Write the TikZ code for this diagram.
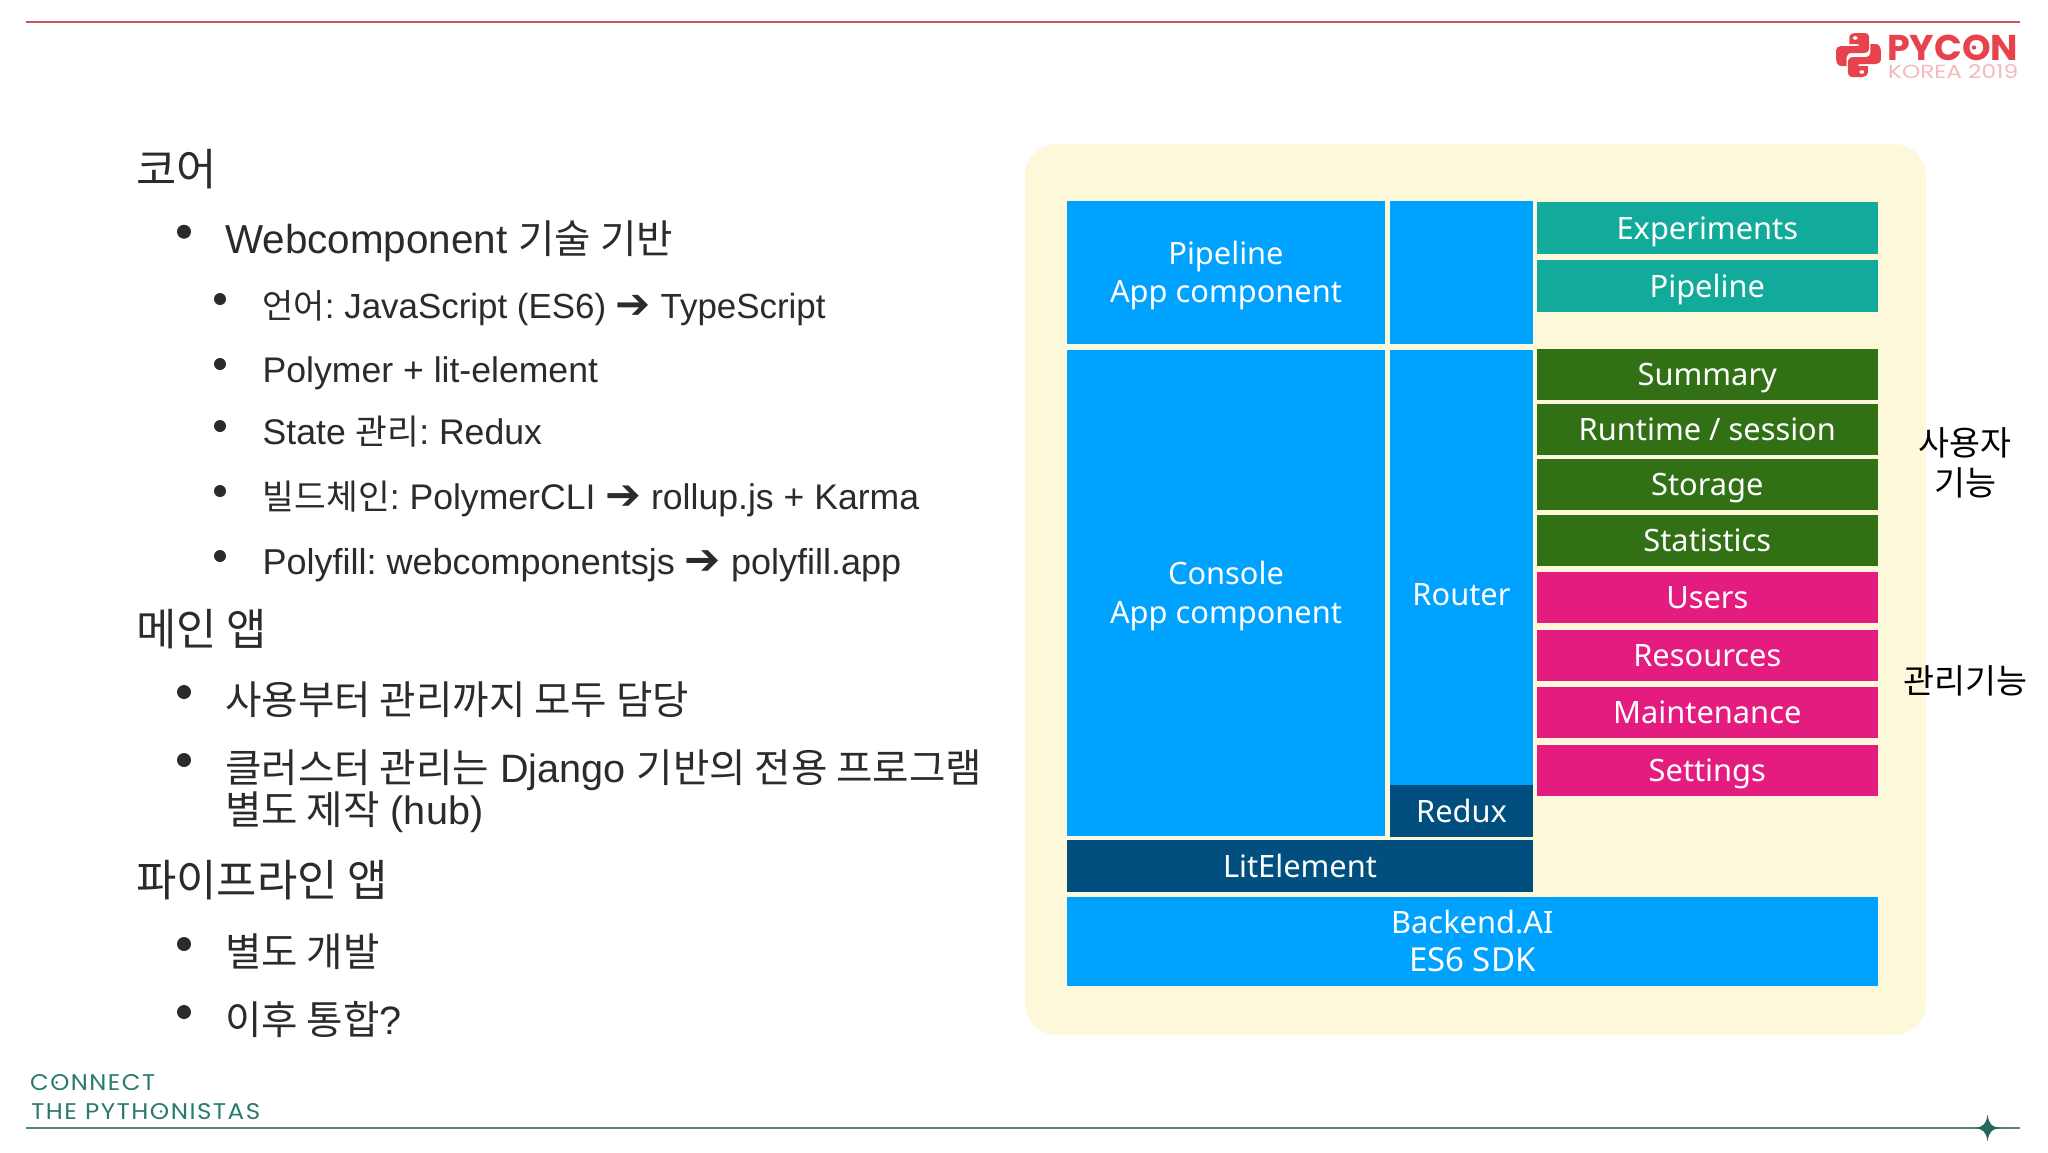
\documentclass[tikz,border=0pt]{standalone}
\usepackage{fontspec}
\usepackage{graphicx}
\setmainfont{Liberation Sans}
\frenchspacing
\newfontfamily\kr[Scale=0.97]{Noto Sans CJK KR}
\newfontfamily\krl{Noto Sans CJK KR}
\newfontfamily\krb{Noto Sans CJK KR}
\newfontfamily\djv{DejaVu Sans}
\newfontfamily\bxf{Noto Sans}
\newfontfamily\pop{Poppins}
\newfontfamily\pops[LetterSpace=6]{Poppins}
\definecolor{panelc}{HTML}{FEF8DA}
\definecolor{blu}{HTML}{00A2FF}
\definecolor{dblu}{HTML}{004F7F}
\definecolor{tealc}{HTML}{12AB9B}
\definecolor{grn}{HTML}{317015}
\definecolor{pnk}{HTML}{E51C7F}
\definecolor{inkc}{HTML}{2B2B2B}
\definecolor{redl}{HTML}{C9545A}
\definecolor{redlogo}{HTML}{E8434C}
\definecolor{pinkl}{HTML}{F3B9BC}
\definecolor{grnl}{HTML}{4F8577}
\definecolor{grnt}{HTML}{2A7A6E}
\newcommand{\arrw}{{\djv\scalebox{1.2}{➔}}}
\newcommand{\tst}{\rule[-8pt]{0pt}{38pt}}
\tikzset{
  x=1pt,y=-1pt,
  bx/.style n args={3}{draw=none,fill=#1,minimum width=#2,minimum height=#3,inner sep=0pt,outer sep=0pt,text=white,align=center,font=\bxf\fontsize{30.8}{38.5}\selectfont},
  lone/.style={anchor=base west,inner sep=0pt,text=inkc,font=\fontsize{39.6}{39.6}\selectfont},
  ltwo/.style={anchor=base west,inner sep=0pt,text=inkc,font=\fontsize{35.6}{35.6}\selectfont},
  lhead/.style={anchor=base west,inner sep=0pt,text=inkc,font=\fontsize{43.8}{43.8}\selectfont},
  side/.style={inner sep=0pt,text=black,align=center,font=\krb\fontsize{33.7}{40}\selectfont},
  foot/.style={anchor=south west,inner sep=0pt,text=grnt},
  bxt/.style={inner sep=0pt,text=white,align=center,font=\bxf\fontsize{30.8}{38.5}\selectfont}
}
\begin{document}
\begin{tikzpicture}
\useasboundingbox (0,0) rectangle (2048,1152);
\fill[white] (0,0) rectangle (2048,1152);
% rules
\draw[redl,line width=2pt] (26,21.7) -- (2020,21.7);
\draw[grnl,line width=1.8pt] (26,1128) -- (2020,1128);
\fill[grnt!85!black] (1987.6,1114.5) .. controls (1989,1124) and (1991,1127) .. (2001.6,1128) .. controls (1991,1129) and (1989,1132) .. (1987.6,1141.5) .. controls (1986,1132) and (1984,1129) .. (1973.6,1128) .. controls (1984,1127) and (1986,1124) .. (1987.6,1114.5) -- cycle;
% logo
\def\snake{(1850,33) -- (1857,33) .. controls (1860,33) and (1861,35) .. (1861,37) -- (1861,49) .. controls (1861,52) and (1859,53) .. (1857,53) -- (1848,53) .. controls (1845.5,53) and (1844,55) .. (1844,57) -- (1844,66) -- (1840,66) .. controls (1837.5,66) and (1836,63) .. (1836,58) -- (1836,50) .. controls (1836,47.5) and (1838,46) .. (1840,46) -- (1853,46) -- (1853,44) -- (1846,44) -- (1846,37) .. controls (1846,35) and (1848,33) .. (1850,33) -- cycle}
\begin{scope}[shift={(1858.5,0)},xscale=1.32,shift={(-1853,0)}]
\fill[redlogo] \snake;
\fill[white] (1850.5,38) circle (1.8);
\begin{scope}[rotate around={180:(1853,55)}]
\fill[redlogo] \snake;
\fill[white] (1850.5,38) circle (1.8);
\end{scope}
\end{scope}
\node[anchor=north west,inner sep=0pt,text=redlogo] (pycon) at (1887,35) {\resizebox{131pt}{25.5pt}{\pop\bfseries PYCON}};
\node[anchor=north west,inner sep=0pt,text=pinkl] (korea) at (1888,64) {\resizebox{130pt}{14pt}{\pop KOREA 2019}};
\fill[redlogo] (1974,47.5) circle (2.2);
% panel
\fill[panelc,rounded corners=32pt] (1025,144) rectangle (1926,1035);
% boxes
\node[bx={blu}{318pt}{143pt}] (pipeapp) at (1226,272.5) {\tst Pipeline\\\tst App component};
\node[bx={blu}{143pt}{143pt}] (routertop) at (1461.5,272.5) {};
\node[bx={tealc}{341pt}{52pt}] (experiments) at (1707.3,228) {\tst Experiments};
\node[bx={tealc}{341pt}{52pt}] (pipeline) at (1707.3,286) {\tst Pipeline};
\node[bx={blu}{318pt}{486.5pt}] (console) at (1226,592.75) {\tst Console\\\tst App component};
\node[bx={blu}{143pt}{435.5pt}] (router) at (1461.5,567.25) {};
\node[bxt] (routerlabel) at (1461.5,594) {\tst Router};
\node[bx={dblu}{143pt}{51.5pt}] (redux) at (1461.5,811) {\tst Redux};
\node[bx={dblu}{466pt}{51.5pt}] (lit) at (1300,866) {\tst LitElement};
\node[bx={blu}{811pt}{89.5pt}] (backend) at (1472.3,941.5) {\tst Backend.AI\\\tst{\fontsize{33}{38.5}\selectfont ES6 SDK}};
\node[bx={grn}{341pt}{51pt}] (summary) at (1707.3,374.5) {\tst Summary};
\node[bx={grn}{341pt}{51pt}] (runtime) at (1707.3,429) {\tst Runtime / session};
\node[bx={grn}{341pt}{51pt}] (storage) at (1707.3,484.5) {\tst Storage};
\node[bx={grn}{341pt}{51pt}] (statistics) at (1707.3,540.5) {\tst Statistics};
\node[bx={pnk}{341pt}{51pt}] (users) at (1707.3,597.4) {\tst Users};
\node[bx={pnk}{341pt}{51pt}] (resources) at (1707.3,655.3) {\tst Resources};
\node[bx={pnk}{341pt}{51pt}] (maintenance) at (1707.3,712.8) {\tst Maintenance};
\node[bx={pnk}{341pt}{51pt}] (settings) at (1707.3,770.2) {\tst Settings};
% side labels
\node[side] (usr) at (1965,463) {사용자\\기능};
\node[side] (adm) at (1965,681) {관리기능};
% left text
\foreach \bx/\by/\br in {184/231.7/7,220/299/6,220/364/6,220/426/6,220/491/6,220/556/6,184/692/7,184/760/7,184/944/7,184/1012/7}{\fill[inkc] (\bx,\by) circle (\br);}
\node[lhead] (h1) at (136,185) {\krl 코어};
\node[lone] (a1) at (225,253) {{\fontsize{40.4}{40.4}\selectfont Webcomponent} {\krl 기술 기반}};
\node[ltwo,font=\fontsize{34.9}{34.9}\selectfont] (b1) at (262.5,318) {{\kr 언어}: JavaScript (ES6) \arrw{} TypeScript};
\node[ltwo] (b2) at (262.5,382) {Polymer + lit-element};
\node[ltwo] (b3) at (262.5,444) {State {\kr 관리}: Redux};
\node[ltwo] (b4) at (262.5,509) {{\kr 빌드체인}: PolymerCLI \arrw{} rollup.js + Karma};
\node[ltwo,font=\fontsize{36}{36}\selectfont] (b5) at (262.5,574) {Polyfill: webcomponentsjs \arrw{} polyfill.app};
\node[lhead] (h2) at (136,645) {\krl 메인 앱};
\node[lone] (a2) at (225,714) {\krl 사용부터 관리까지 모두 담당};
\node[lone] (a3) at (225,782) {{\krl 클러스터 관리는} Django {\krl 기반의 전용 프로그램}};
\node[lone] (a4) at (225,824) {{\krl 별도 제작} (hub)};
\node[lhead] (h3) at (136,896) {\krl 파이프라인 앱};
\node[lone] (a5) at (225,966) {\krl 별도 개발};
\node[lone] (a6) at (225,1034) {{\krl 이후 통합}?};
% footer
\node[foot] (f1) at (30,1091) {\resizebox{125pt}{16pt}{\pops CONNECT}};
\node[foot] (f2) at (31,1120) {\resizebox{229pt}{16pt}{\pops THE PYTHONISTAS}};
\fill[grnt] (56.7,1082.5) circle (1.4);
\fill[grnt] (161,1111.5) circle (1.4);
\end{tikzpicture}
\end{document}
